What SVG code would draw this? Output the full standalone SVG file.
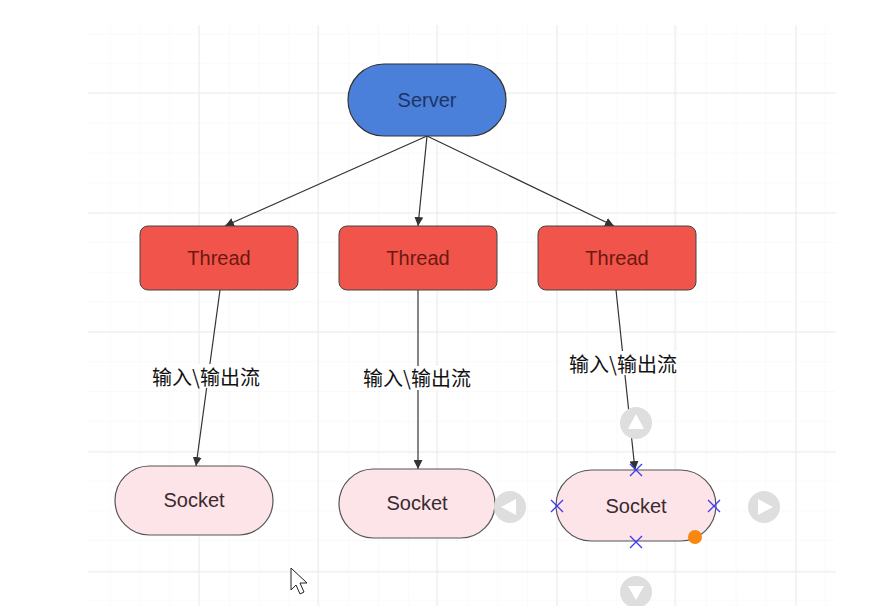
<svg xmlns="http://www.w3.org/2000/svg" width="886" height="606" viewBox="0 0 886 606">
<defs>
<marker id="arr" viewBox="0 0 10 10" refX="10" refY="5" markerWidth="9" markerHeight="9" markerUnits="userSpaceOnUse" orient="auto">
<path d="M0,0 L10,5 L0,10 z" fill="#333"/>
</marker>
<pattern id="minor" x="80" y="93" width="29.8" height="29.8" patternUnits="userSpaceOnUse">
<path d="M0,0 V29.8 M0,0 H29.8" stroke="#f6f6f6" stroke-width="1" fill="none"/>
</pattern>
</defs>
<style>
.edge{stroke:#333;stroke-width:1.2;fill:none;marker-end:url(#arr)}
.lbl{font-family:"Noto Sans CJK SC","Liberation Sans",sans-serif;font-size:20px;fill:#111;text-anchor:middle}
.nt{font-family:"Liberation Sans","DejaVu Sans",sans-serif;font-size:20px;text-anchor:middle}
.grid{stroke:#eaeaea;stroke-width:1}
.thread{fill:#F0544A;stroke:#444;stroke-width:1}
.socket{fill:#FDE4E8;stroke:#555;stroke-width:1.2}
.x{stroke:#3a3aee;stroke-width:1.3}
.handle{fill:#dedede}
</style>
<rect width="886" height="606" fill="#fff"/>
<g id="grid">
<rect x="88" y="25" width="748" height="581" fill="url(#minor)"/>
<path class="grid" d="M199,25V606 M318,25V606 M437,25V606 M557,25V606 M675,25V606 M796,25V606 M88,93H836 M88,213H836 M88,332H836 M88,452H836 M88,572H836"/>
</g>
<g id="connectors">
<line class="edge" x1="427" y1="136" x2="225" y2="226"/>
<line class="edge" x1="427" y1="136" x2="418" y2="226"/>
<line class="edge" x1="427" y1="136" x2="614" y2="226"/>
<line class="edge" x1="220" y1="290" x2="196" y2="466"/>
<line class="edge" x1="418" y1="290" x2="418" y2="469"/>
<line class="edge" x1="616" y1="290" x2="635" y2="470"/>
<g id="labels">
<rect x="148" y="364" width="116" height="24" fill="#fff"/>
<text class="lbl" x="206" y="385">输入\输出流</text>
<rect x="361" y="366" width="112" height="24" fill="#fff"/>
<text class="lbl" x="417" y="386">输入\输出流</text>
<rect x="566" y="351" width="114" height="24" fill="#fff"/>
<text class="lbl" x="623" y="372">输入\输出流</text>
</g>
</g>
<g id="server">
<rect x="348" y="64" width="158" height="72" rx="36" fill="#4A80D9" stroke="#333" stroke-width="1.2"/>
<text class="nt" x="427" y="107" fill="#1d3566">Server</text>
</g>
<g id="thread1">
<rect class="thread" x="140" y="226" width="158" height="64" rx="8"/>
<text class="nt" x="219" y="265" fill="#6e1810">Thread</text>
</g>
<g id="thread2">
<rect class="thread" x="339" y="226" width="158" height="64" rx="8"/>
<text class="nt" x="418" y="265" fill="#6e1810">Thread</text>
</g>
<g id="thread3">
<rect class="thread" x="538" y="226" width="158" height="64" rx="8"/>
<text class="nt" x="617" y="265" fill="#6e1810">Thread</text>
</g>
<g id="socket1">
<rect class="socket" x="115" y="466" width="158" height="69" rx="34.5"/>
<text class="nt" x="194" y="507" fill="#3a2a30">Socket</text>
</g>
<g id="socket2">
<rect class="socket" x="339" y="469" width="156" height="69" rx="34.5"/>
<text class="nt" x="417" y="510" fill="#3a2a30">Socket</text>
</g>
<g id="socket3">
<rect class="socket" x="556" y="470" width="160" height="71" rx="35.5"/>
<text class="nt" x="636" y="513" fill="#3a2a30">Socket</text>
</g>
<g id="selection">
<circle class="handle" cx="636" cy="423" r="16"/>
<path d="M636,414 L644,429 L628,429 z" fill="#fff"/>
<circle class="handle" cx="510" cy="507" r="16"/>
<path d="M501,507 L516,499 L516,515 z" fill="#fff"/>
<circle class="handle" cx="764" cy="507" r="16"/>
<path d="M773,507 L758,499 L758,515 z" fill="#fff"/>
<circle class="handle" cx="636" cy="592" r="16"/>
<path d="M636,600 L644,586 L628,586 z" fill="#fff"/>
<path class="x" d="M630,464 L642,476 M642,464 L630,476"/>
<path class="x" d="M551,500 L563,512 M563,500 L551,512"/>
<path class="x" d="M708,500 L720,512 M720,500 L708,512"/>
<path class="x" d="M630,536 L642,548 M642,536 L630,548"/>
<circle cx="695" cy="537" r="7" fill="#F7870F"/>
</g>
<g id="cursor">
<path d="M291,568 L291,590 L296,585 L300,594 L304,592 L300,583 L307,583 z" fill="#fff" stroke="#222" stroke-width="1"/>
</g>
</svg>
